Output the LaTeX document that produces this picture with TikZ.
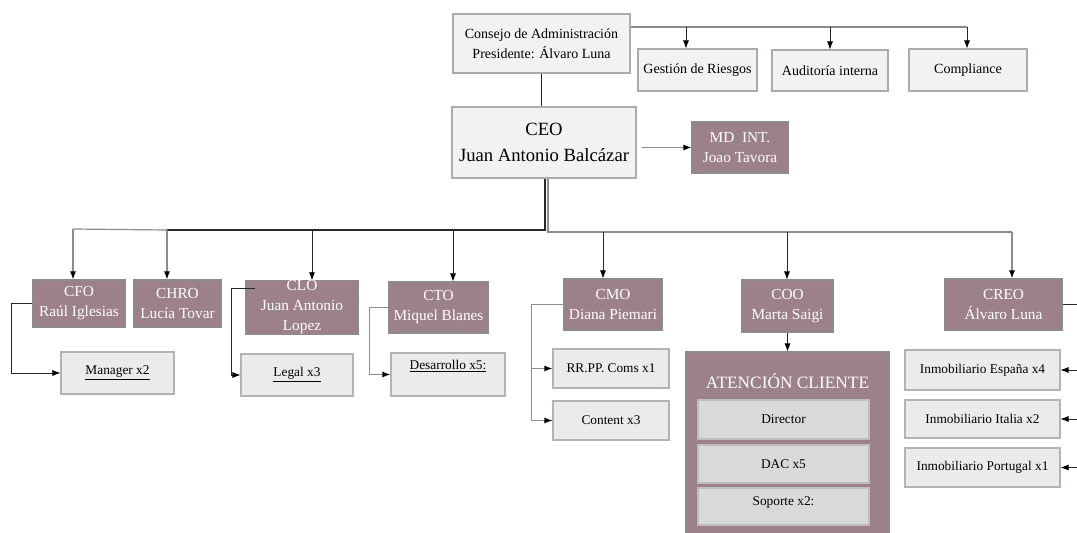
\documentclass[tikz,border=0pt]{standalone}
\usepackage{fontspec}
\setmainfont{Liberation Serif}
\usetikzlibrary{arrows.meta}
\definecolor{mauve}{HTML}{9C808B}
\definecolor{mauveline}{HTML}{8E8A8C}
\definecolor{palefill}{HTML}{F2F2F2}
\definecolor{paleline}{HTML}{A9ADA7}
\definecolor{teamfill}{HTML}{EBEBEB}
\definecolor{teamline}{HTML}{B0B5AE}
\definecolor{innerfill}{HTML}{D9D9D9}
\definecolor{innerline}{HTML}{BDBDBD}
\begin{document}
\begin{tikzpicture}[x=0.75pt,y=-0.75pt,
box/.style 2 args={minimum width=#1*0.75pt, minimum height=#2*0.75pt, inner sep=0pt, align=center},
pale/.style 2 args={box={#1}{#2}, fill=palefill, draw=paleline, line width=0.8pt,
  font=\fontsize{10.5}{12}\selectfont},
chief/.style 2 args={box={#1}{#2}, fill=mauve, draw=mauveline, line width=0.8pt, text=white,
  font=\fontsize{11.5}{15}\selectfont},
team/.style 2 args={box={#1}{#2}, fill=teamfill, draw=teamline, line width=0.8pt,
  font=\fontsize{10}{12}\selectfont},
inner/.style 2 args={box={#1}{#2}, fill=innerfill, draw=innerline, line width=0.8pt,
  font=\fontsize{10}{12}\selectfont},
darkwire/.style={draw=black!85, line width=0.6pt},
greywire/.style={draw=black!45, line width=0.9pt},
arr/.style={-{Latex[length=6pt,width=4.5pt,color=black]}}
]
\useasboundingbox (0,0) rectangle (1077,532);
\clip (0,0) rectangle (1077,532);
\fill[white] (0,0) rectangle (1077,532);

% board and committees
\node[pale={177}{59}, font=\fontsize{10.5}{15}\selectfont] (board) at (541.5,43.5) {Consejo de Administración\\Presidente: Álvaro Luna};
\node[pale={119}{42}] (risk) at (697.5,70) {Gestión de Riesgos};
\node[pale={116}{41}] (audit) at (830,70.5) {Auditoría interna};
\node[pale={118}{42}] (comp) at (968,70) {Compliance};

\node[pale={184}{71}, font=\fontsize{14}{19}\selectfont] (ceo) at (544,142.5) {CEO\\Juan Antonio Balcázar};
\node[chief={96}{51}] (mdint) at (740,147.5) {MD\ \ INT.\\Joao Tavora};

% C-level
\node[chief={92}{47}] (cfo) at (79,303.5) {CFO\\Raúl Iglesias};
\node[chief={87}{47}] (chro) at (177.5,303.5) {CHRO\\Lucía Tovar};
\node[chief={112}{51}] (clo) at (302,307.5) {CLO\\Juan Antonio\\Lopez};
\node[chief={99}{51}] (cto) at (438.5,307.5) {CTO\\Miquel Blanes};
\node[chief={98}{51}] (cmo) at (613,304.5) {CMO\\Diana Piemari};
\node[chief={91}{52}] (coo) at (787.5,306) {COO\\Marta Saigi};
\node[chief={117}{51}] (creo) at (1003.5,304.5) {CREO\\Álvaro Luna};

% teams
\node[team={113}{42}] (mgr) at (117.5,373) {\underline{Manager x2}};
\node[team={112}{42}] (legal) at (297,375) {\underline{Legal x3}};
\node[team={114}{43}, label={[anchor=north,yshift=-2pt,font=\fontsize{10}{12}\selectfont]north:\underline{Desarrollo x5:}}] (dev) at (448,374.5) {};
\node[team={116}{39}] (rrpp) at (611,368.5) {RR.PP. Coms x1};
\node[team={116}{39}] (content) at (611,420.5) {Content x3};

\node[chief={203}{188}, label={[anchor=center,yshift=-30*0.75pt,text=white,font=\fontsize{13}{15}\selectfont]north:ATENCIÓN CLIENTE}] (atc) at (787.5,446) {};
\node[inner={171}{39}] (director) at (783.5,419.5) {Director};
\node[inner={171}{38}] (dac) at (783.5,464) {DAC x5};
\node[inner={171}{37}, label={[anchor=north,yshift=-3pt,font=\fontsize{10}{12}\selectfont]north:Soporte x2:}] (soporte) at (783.5,506.5) {};

\node[team={155}{40}] (esp) at (982.5,370) {Inmobiliario España x4};
\node[team={155}{38}] (ita) at (982.5,419) {Inmobiliario Italia x2};
\node[team={155}{39}] (por) at (982.5,467.5) {Inmobiliario Portugal x1};

% board connectors
\coordinate (topbus) at (967,27);
\coordinate (riskdrop) at (686,27);
\coordinate (auditdrop) at (830,27);
\coordinate (compdrop) at (967,27);
\draw[greywire] (board.east |- topbus) -- (topbus);
\foreach \n in {risk,audit,comp}
  \draw[darkwire,arr] (\n drop) -- (\n drop |- \n.north);
\draw[darkwire] (board.south) -- (board.south |- ceo.north);
\draw[greywire,arr] ([xshift=5*0.75pt]ceo.east |- mdint.west) -- (mdint.west);

% CEO to C-level
\coordinate (lbus) at (545,230);
\coordinate (rbus) at (548,232);
\coordinate (cfodrop) at (73,229);
\coordinate (chrodrop) at (167,230);
\coordinate (clodrop) at (312,230);
\coordinate (ctodrop) at (453,230);
\coordinate (cmodrop) at (603,232);
\coordinate (coodrop) at (787,232);
\coordinate (creodrop) at (1012,232);
\draw[darkwire,line width=0.9pt] (ceo.south -| lbus) -- (lbus) -- (chrodrop);
\draw[greywire] (chrodrop) -- (cfodrop);
\draw[greywire] (ceo.south -| rbus) -- (rbus) -- (creodrop);
\foreach \n/\w in {cfo/greywire,chro/greywire,clo/darkwire,cto/darkwire,cmo/darkwire,coo/darkwire,creo/greywire}
  \draw[\w,arr] (\n drop) -- (\n drop |- \n.north);

% C-level to teams
\draw[darkwire,arr] (cfo.west) -- ++(-21,0) |- (mgr.west);
\draw[darkwire,arr] ([shift={(10,8)}]clo.north west) -- ++(-24,0) |- (legal.west);
\draw[greywire,arr] (cto.west) -- ++(-19,0) |- (dev.west);
\draw[greywire] (cmo.west) -- ++(-32,0) coordinate (cmoturn) |- (content.west);
\draw[greywire,arr] (cmoturn |- content.west) -- (content.west);
\draw[greywire,arr] (cmoturn |- rrpp.west) -- (rrpp.west);
\draw[darkwire,arr] (coo.south) -- (atc.north);
\draw[darkwire] (creo.east) -- ++(30,0) coordinate (creoturn);
\foreach \n in {esp,ita,por}
  \draw[darkwire,arr] (creoturn) |- (\n.east);
\end{tikzpicture}
\end{document}
